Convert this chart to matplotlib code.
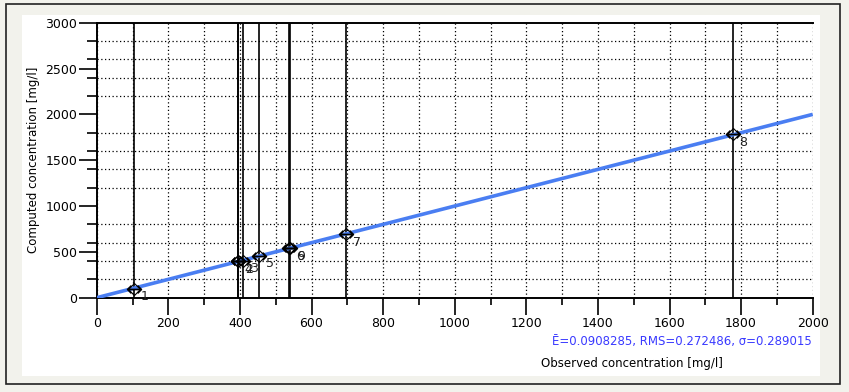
"""Computed vs observed concentration, one vertical line per sample."""
import matplotlib.pyplot as plt
from matplotlib.patches import Rectangle
from matplotlib.ticker import MultipleLocator

# Data
labels = ["1", "2", "3", "4", "5", "6", "7", "8", "9"]
observed = [104, 394, 409, 394, 453, 537, 697, 1776, 540]
computed = [100, 400, 405, 398, 460, 545, 690, 1785, 540]
ideal_x = [0, 2000]
ideal_y = [0, 2000]
stats_text = "\u0112=0.0908285, RMS=0.272486, \u03c3=0.289015"

BG = "#f2f2ec"
LINE_BLUE = "#4a7ef2"
TEXT_BLUE = "#3a3aff"

fig = plt.figure(figsize=(8.49, 3.92), dpi=100)
fig.patch.set_facecolor(BG)

# outer frame and white panel (figure pixel coords -> fractions)
W, H = 849, 392
fig.patches.append(Rectangle((6 / W, 1 - 384 / H), 834 / W, 380 / H,
                             transform=fig.transFigure, fill=False,
                             edgecolor="#222222", linewidth=1.2, zorder=-10))
fig.patches.append(Rectangle((22 / W, 1 - 376 / H), 798 / W, 361 / H,
                             transform=fig.transFigure, facecolor="white",
                             edgecolor="none", zorder=-10))

ax = fig.add_axes([96.7 / W, 1 - 297.7 / H, 716 / W, 275 / H])
ax.set_facecolor("white")
ax.set_xlim(0, 2000)
ax.set_ylim(0, 3000)

ax.xaxis.set_major_locator(MultipleLocator(200))
ax.xaxis.set_minor_locator(MultipleLocator(100))
ax.yaxis.set_major_locator(MultipleLocator(500))
ax.yaxis.set_minor_locator(MultipleLocator(200))

ax.grid(which="both", axis="x", linestyle=(0, (1, 2)), color="black", linewidth=0.9)
ax.grid(which="minor", axis="y", linestyle=(0, (1, 2)), color="black", linewidth=0.9)

ax.tick_params(axis="x", which="major", length=12, width=1.2, direction="out", labelsize=9, pad=2)
ax.tick_params(axis="x", which="minor", length=5, width=1.2, direction="out")
ax.tick_params(axis="y", which="major", length=13, width=1.2, direction="out", labelsize=9, pad=1)
ax.tick_params(axis="y", which="minor", length=7, width=1.2, direction="out")

for side in ["left", "bottom", "top"]:
    ax.spines[side].set_linewidth(1.4)
ax.spines["right"].set_visible(False)

# vertical line for each sample
for x in observed:
    ax.axvline(x, color="black", linewidth=1.2, zorder=2)

ax.plot(ideal_x, ideal_y, color=LINE_BLUE, linewidth=2.6, zorder=3, solid_capstyle="butt")

ax.plot(observed, computed, linestyle="none", marker="D", markersize=6.5,
        markerfacecolor="none", markeredgecolor="black", markeredgewidth=0.8, zorder=4)
ax.plot(observed, computed, linestyle="none", marker=r"$\leftrightarrow$", markersize=11,
        color="black", markeredgewidth=0, zorder=5)

for lab, x, y in zip(labels, observed, computed):
    ax.annotate(lab, (x, y), xytext=(5, -6), textcoords="offset points",
                ha="left", va="center", fontsize=9, color="#222222", zorder=6)

ax.set_ylabel("Computed concentration [mg/l]", fontsize=8.5, labelpad=4)

fig.text(812 / W, 1 - 342 / H, stats_text, ha="right", va="center",
         fontsize=8.5, color=TEXT_BLUE)
fig.text(632 / W, 1 - 363 / H, "Observed concentration [mg/l]", ha="center",
         va="center", fontsize=8.5, color="black")

fig.savefig("out.png", dpi=100, facecolor=BG)
